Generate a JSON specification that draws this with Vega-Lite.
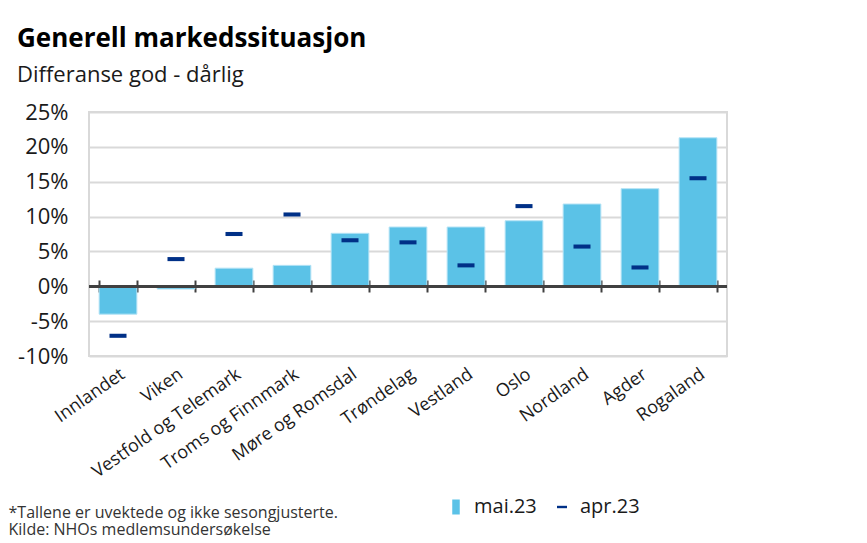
{
  "$schema": "https://vega.github.io/schema/vega-lite/v6.json",
  "width": 638,
  "height": 244,
  "autosize": {"type": "none"},
  "padding": {"left": 89, "top": 112, "right": 140, "bottom": 187},
  "background": "white",
  "config": {
    "font": "Open Sans",
    "view": {"stroke": "#d9d9d9", "strokeWidth": 2},
    "axisY": {
      "values": [-10, -5, 0, 5, 10, 15, 20, 25],
      "labelExpr": "datum.value + '%'",
      "labelOverlap": false,
      "labelFlush": false,
      "domain": false,
      "ticks": false,
      "labelPadding": 21,
      "labelFontSize": 22,
      "labelColor": "#1a1a1a",
      "gridColor": "#d9d9d9",
      "gridWidth": 2,
      "title": null
    }
  },
  "title": {
    "text": "Generell markedssituasjon",
    "subtitle": "Differanse god - dårlig",
    "anchor": "start",
    "frame": "group",
    "dx": -72,
    "offset": 15,
    "fontSize": 26,
    "fontWeight": "bold",
    "color": "#000000",
    "subtitleFontSize": 22,
    "subtitleColor": "#1a1a1a",
    "subtitlePadding": 13
  },
  "data": {
    "values": [
      {"region": "Innlandet", "series": "mai.23", "value": -4.0},
      {"region": "Viken", "series": "mai.23", "value": -0.4},
      {"region": "Vestfold og Telemark", "series": "mai.23", "value": 2.6},
      {"region": "Troms og Finnmark", "series": "mai.23", "value": 3.0},
      {"region": "Møre og Romsdal", "series": "mai.23", "value": 7.6},
      {"region": "Trøndelag", "series": "mai.23", "value": 8.5},
      {"region": "Vestland", "series": "mai.23", "value": 8.5},
      {"region": "Oslo", "series": "mai.23", "value": 9.4},
      {"region": "Nordland", "series": "mai.23", "value": 11.8},
      {"region": "Agder", "series": "mai.23", "value": 14.0},
      {"region": "Rogaland", "series": "mai.23", "value": 21.3},
      {"region": "Innlandet", "series": "apr.23", "value": -7.1},
      {"region": "Viken", "series": "apr.23", "value": 3.9},
      {"region": "Vestfold og Telemark", "series": "apr.23", "value": 7.5},
      {"region": "Troms og Finnmark", "series": "apr.23", "value": 10.3},
      {"region": "Møre og Romsdal", "series": "apr.23", "value": 6.6},
      {"region": "Trøndelag", "series": "apr.23", "value": 6.3},
      {"region": "Vestland", "series": "apr.23", "value": 3.0},
      {"region": "Oslo", "series": "apr.23", "value": 11.5},
      {"region": "Nordland", "series": "apr.23", "value": 5.7},
      {"region": "Agder", "series": "apr.23", "value": 2.7},
      {"region": "Rogaland", "series": "apr.23", "value": 15.5}
    ]
  },
  "layer": [
    {
      "transform": [{"filter": "datum.series === 'mai.23'"}],
      "mark": {"type": "bar", "color": "#5BC2E7", "stroke": "#b3e3f5", "strokeWidth": 1},
      "encoding": {
        "x": {
          "field": "region",
          "type": "nominal",
          "sort": null,
          "scale": {"paddingInner": 0.35, "paddingOuter": 0.175},
          "axis": {
            "orient": "bottom",
            "domain": false,
            "ticks": false,
            "labelAngle": -35,
            "labelAlign": "right",
            "labelBaseline": "top",
            "labelPadding": 9,
            "labelFontSize": 18,
            "labelColor": "#1a1a1a",
            "labelFont": "Open Sans",
            "labelOverlap": false,
            "title": "*Tallene er uvektede og ikke sesongjusterte.",
            "titleFont": "Open Sans",
            "titleFontSize": 16,
            "titleFontWeight": "normal",
            "titleColor": "#333333",
            "titleAnchor": "start",
            "titleAlign": "left",
            "titleBaseline": "alphabetic",
            "titleX": -81,
            "titleY": 161
          }
        },
        "y": {
          "field": "value",
          "type": "quantitative",
          "scale": {"domain": [-10, 25], "nice": false, "zero": false},
          "axis": {
            "values": [-10, -5, 0, 5, 10, 15, 20, 25],
            "labelExpr": "datum.value + '%'",
            "labelOverlap": false,
            "title": null
          }
        },
        "color": {
          "field": "series",
          "type": "nominal",
          "scale": {"domain": ["mai.23", "apr.23"], "range": ["#5BC2E7", "#003087"]},
          "legend": {
            "orient": "none",
            "legendX": 357,
            "legendY": 385,
            "direction": "horizontal",
            "title": null,
            "labelFontSize": 20,
            "labelColor": "#1a1a1a",
            "labelOffset": 8,
            "symbolSize": 225,
            "symbolStrokeWidth": 0,
            "columnPadding": 15,
            "padding": 0
          }
        }
      }
    },
    {
      "mark": {"type": "rule", "color": "#404040", "strokeWidth": 2},
      "encoding": {
        "y": {
          "datum": 0,
          "type": "quantitative",
          "axis": {
            "values": [-10, -5, 0, 5, 10, 15, 20, 25],
            "labelExpr": "datum.value + '%'",
            "labelOverlap": false,
            "title": null
          }
        }
      }
    },
    {
      "transform": [{"filter": "datum.series === 'apr.23'"}],
      "mark": {"type": "point", "filled": true, "size": 645, "opacity": 1},
      "encoding": {
        "x": {
          "field": "region",
          "type": "nominal",
          "sort": null,
          "axis": {
            "orient": "bottom",
            "offset": -64,
            "domain": false,
            "labels": false,
            "ticks": true,
            "tickBand": "extent",
            "tickSize": -12,
            "tickWidth": 2,
            "tickColor": "#404040",
            "title": "Kilde: NHOs medlemsundersøkelse",
            "titleFont": "Open Sans",
            "titleFontSize": 16,
            "titleFontWeight": "normal",
            "titleColor": "#333333",
            "titleAnchor": "start",
            "titleAlign": "left",
            "titleBaseline": "alphabetic",
            "titleX": -81,
            "titleY": 242
          }
        },
        "y": {
          "field": "value",
          "type": "quantitative",
          "axis": {
            "values": [-10, -5, 0, 5, 10, 15, 20, 25],
            "labelExpr": "datum.value + '%'",
            "labelOverlap": false,
            "title": null
          }
        },
        "color": {
          "field": "series",
          "type": "nominal",
          "scale": {"domain": ["mai.23", "apr.23"], "range": ["#5BC2E7", "#003087"]},
          "legend": {
            "orient": "none",
            "legendX": 357,
            "legendY": 385,
            "direction": "horizontal",
            "title": null,
            "labelFontSize": 20,
            "labelColor": "#1a1a1a",
            "labelOffset": 8,
            "symbolSize": 225,
            "symbolStrokeWidth": 0,
            "columnPadding": 15,
            "padding": 0
          }
        },
        "shape": {
          "field": "series",
          "type": "nominal",
          "scale": {"domain": ["mai.23", "apr.23"], "range": ["M-0.5,-1H0.5V1H-0.5Z", "M-0.67,-0.16H0.67V0.16H-0.67Z"]},
          "legend": {
            "orient": "none",
            "legendX": 357,
            "legendY": 385,
            "direction": "horizontal",
            "title": null,
            "labelFontSize": 20,
            "labelColor": "#1a1a1a",
            "labelOffset": 8,
            "symbolSize": 225,
            "symbolStrokeWidth": 0,
            "columnPadding": 15,
            "padding": 0
          }
        }
      }
    }
  ],
  "resolve": {"axis": {"x": "independent"}}
}
